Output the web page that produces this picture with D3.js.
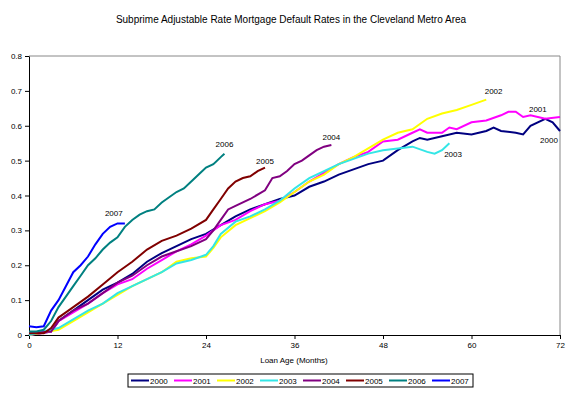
<!DOCTYPE html>
<html><head><meta charset="utf-8">
<script src="https://cdn.jsdelivr.net/npm/d3@7"></script>
<style>body{margin:0;background:#fff}text{font-family:"Liberation Sans",Arial,sans-serif}</style>
</head><body><svg width="582" height="403"></svg>
<script>
const years = ["2000","2001","2002","2003","2004","2005","2006","2007"];
const colors = ["#000080","#ff00ff","#ffff00","#33e6e6","#800080","#800000","#008080","#0000ff"];
const xTicks = [0,12,24,36,48,60,72];
const yTicks = [0,0.1,0.2,0.3,0.4,0.5,0.6,0.7,0.8];
// [month, rate]
const s2000 = [[0,0],[3,.01],[4,.04],[6,.07],[8,.1],[10,.13],[12,.15],[14,.175],[16,.21],[18,.235],[20,.255],[22,.275],[24,.29],[26,.315],[28,.34],[30,.36],[32,.375],[34,.39],[36,.4],[38,.425],[40,.44],[42,.46],[44,.475],[46,.49],[48,.5],[50,.53],[52,.555],[53,.565],[54,.56],[56,.57],[58,.58],[60,.575],[62,.585],[63,.595],[64,.585],[66,.58],[67,.575],[68,.6],[70,.62],[71,.61],[72,.585]];
const s2001 = [[0,0],[3,.01],[4,.04],[6,.065],[8,.09],[10,.12],[12,.145],[14,.16],[16,.19],[18,.215],[20,.24],[22,.26],[24,.285],[26,.315],[28,.33],[30,.355],[32,.375],[34,.385],[36,.41],[38,.44],[40,.465],[42,.49],[44,.51],[46,.525],[48,.555],[50,.56],[52,.58],[53,.59],[54,.58],[56,.58],[57,.595],[58,.59],[60,.61],[62,.615],[64,.63],[65,.64],[66,.64],[67,.625],[68,.63],[70,.62],[72,.625]];
const s2002 = [[0,0],[4,.015],[6,.04],[8,.065],[10,.09],[12,.115],[14,.14],[16,.16],[18,.18],[20,.21],[22,.22],[24,.225],[25,.25],[26,.28],[28,.315],[30,.335],[32,.355],[34,.38],[36,.41],[38,.44],[40,.46],[42,.49],[44,.51],[46,.535],[48,.56],[50,.58],[52,.59],[54,.62],[56,.635],[58,.645],[60,.66],[62,.675]];
const s2003 = [[0,0],[4,.02],[6,.045],[8,.07],[10,.09],[12,.12],[14,.14],[16,.16],[18,.18],[20,.205],[22,.215],[24,.23],[25,.255],[26,.29],[28,.325],[30,.34],[32,.36],[34,.385],[36,.42],[38,.45],[40,.47],[42,.49],[44,.505],[46,.52],[48,.53],[50,.535],[52,.54],[54,.525],[55,.52],[56,.53],[57,.55]];
const s2004 = [[0,.005],[3,.01],[4,.04],[6,.07],[8,.09],[10,.12],[12,.15],[14,.17],[16,.2],[18,.225],[20,.24],[22,.255],[24,.275],[25,.3],[26,.33],[27,.36],[28,.37],[30,.39],[32,.415],[33,.45],[34,.455],[35,.47],[36,.49],[37,.5],[38,.515],[39,.53],[40,.54],[41,.545]];
const s2005 = [[0,.005],[2,.005],[3,.02],[4,.05],[5,.065],[6,.08],[8,.11],[10,.145],[12,.18],[14,.21],[16,.245],[18,.27],[20,.285],[22,.305],[24,.33],[25,.36],[26,.39],[27,.42],[28,.44],[29,.45],[30,.455],[31,.47],[32,.48]];
const s2006 = [[0,.01],[1,.01],[2,.015],[3,.04],[4,.08],[5,.11],[6,.14],[7,.17],[8,.2],[9,.22],[10,.245],[11,.265],[12,.28],[13,.31],[14,.33],[15,.345],[16,.355],[17,.36],[18,.38],[19,.395],[20,.41],[21,.42],[22,.44],[23,.46],[24,.48],[25,.49],[26,.51],[26.5,.52]];
const s2007 = [[0,.025],[1,.022],[2,.025],[3,.07],[4,.1],[5,.14],[6,.18],[7,.2],[8,.225],[9,.26],[10,.29],[11,.31],[12,.32],[13,.32]];
const seriesData = [s2000,s2001,s2002,s2003,s2004,s2005,s2006,s2007];
const labelPos = [[70.5,.55],[69,.64],[63,.69],[57.5,.51],[41,.56],[32,.49],[26.5,.54],[11.5,.34]]; // label anchor in data units

const svg = d3.select("svg");
const x = d3.scaleLinear().domain([0,72]).range([29,560]);
const y = d3.scaleLinear().domain([0,0.8]).range([335,56]);

svg.append("text").attr("x",291).attr("y",23).attr("text-anchor","middle").attr("font-size",10).text("Subprime Adjustable Rate Mortgage Default Rates in the Cleveland Metro Area");
svg.append("path").attr("d",`M29,56H560V335`).attr("fill","none").attr("stroke","#888");

svg.append("g").attr("transform","translate(0,335)")
  .call(d3.axisBottom(x).tickValues(xTicks).tickSize(4).tickSizeOuter(0))
  .call(g=>g.selectAll("text").attr("font-size",8).attr("fill","#000"));
svg.append("g").attr("transform","translate(29,0)")
  .call(d3.axisLeft(y).tickValues(yTicks).tickFormat(d=>d===0?"0":d3.format(".1f")(d)).tickSize(4).tickSizeOuter(0))
  .call(g=>g.selectAll("text").attr("font-size",8).attr("fill","#000"));
svg.selectAll(".domain, .tick line").attr("stroke","#000");

const line = d3.line().x(d=>x(d[0])).y(d=>y(d[1]));
seriesData.forEach((s,i)=>{
  svg.append("path").datum(s).attr("d",line).attr("fill","none").attr("stroke",colors[i]).attr("stroke-width",2);
});
labelPos.forEach((p,i)=>{
  svg.append("text").attr("x",x(p[0])).attr("y",y(p[1])).attr("text-anchor","middle").attr("font-size",8).text(years[i]);
});
svg.append("text").attr("x",294).attr("y",363).attr("text-anchor","middle").attr("font-size",8).text("Loan Age (Months)");

const lg = svg.append("g");
lg.append("rect").attr("x",128).attr("y",374).attr("width",345).attr("height",13).attr("fill","#fff").attr("stroke","#000");
years.forEach((yr,i)=>{
  const lx = 131 + i*43;
  lg.append("line").attr("x1",lx).attr("x2",lx+18).attr("y1",380.5).attr("y2",380.5).attr("stroke",colors[i]).attr("stroke-width",2);
  lg.append("text").attr("x",lx+19).attr("y",384).attr("font-size",8).text(yr);
});
</script></body></html>
